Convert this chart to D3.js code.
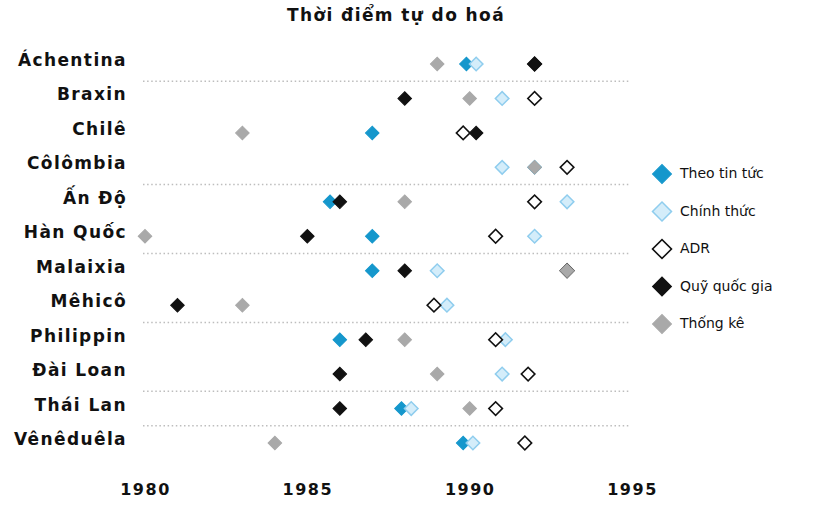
<!DOCTYPE html>
<html>
<head>
<meta charset="utf-8">
<script src="https://cdn.jsdelivr.net/npm/d3@7"></script>
<style>
  body { margin: 0; background: #fff; }
  text { font-family: "DejaVu Sans", sans-serif; fill: #111; }
</style>
</head>
<body>
<div id="plot_area"></div>
<script>
// data (years of liberalisation)
var countries = ["Áchentina", "Braxin", "Chilê", "Côlômbia", "Ấn Độ", "Hàn Quốc",
                 "Malaixia", "Mêhicô", "Philippin", "Đài Loan", "Thái Lan", "Vênêduêla"]
var newsYears     = [1989.9, null, 1987, 1992, 1985.7, 1987, 1987, null, 1986, null, 1987.9, 1989.8]
var officialYears = [1990.2, 1991, null, 1991, 1993, 1992, 1989, 1989.3, 1991.1, 1991, 1988.2, 1990.1]
var adrYears      = [1992, 1992, 1989.8, 1993, 1992, 1990.8, 1993, 1988.9, 1990.8, 1991.8, 1990.8, 1991.7]
var fundYears     = [1992, 1988, 1990.2, null, 1986, 1985, 1988, 1981, 1986.8, 1986, 1986, null]
var statYears     = [1989, 1990, 1983, 1992, 1988, 1980, 1993, 1983, 1988, 1989, 1990, 1984]
var seriesNames   = ["Theo tin tức", "Chính thức", "ADR", "Quỹ quốc gia", "Thống kê"]
var tickYears     = [1980, 1985, 1990, 1995]
// rows after which a dotted separator is drawn
var separators    = [0, 3, 5, 7, 9, 10]

var width = 820, height = 507

var series = [
  {name: seriesNames[0], values: newsYears,     fill: "#1597cc", stroke: "#1597cc", sw: 1},
  {name: seriesNames[1], values: officialYears, fill: "#d4edfa", stroke: "#8fcdee", sw: 1.5},
  {name: seriesNames[2], values: adrYears,      fill: "#fff",    stroke: "#111",    sw: 1.6},
  {name: seriesNames[3], values: fundYears,     fill: "#111",    stroke: "#111",    sw: 1},
  {name: seriesNames[4], values: statYears,     fill: "#a9a9a9", stroke: "#a9a9a9", sw: 1}
]

var svg = d3.select('#plot_area')
  .append("svg")
    .attr("width", width)
    .attr("height", height)

var x = d3.scaleLinear()
  .domain([1980, 1995])
  .range([145, 632])

var y = d3.scalePoint()
  .domain(countries)
  .range([64, 443])

var step = y.step()

// title
svg.append("text")
  .attr("x", 396)
  .attr("y", 16)
  .attr("text-anchor", "middle")
  .attr("dominant-baseline", "middle")
  .style("font-size", "17px")
  .style("font-weight", "bold")
  .style("letter-spacing", "1.4px")
  .text("Thời điểm tự do hoá")

// dotted separators
svg.selectAll(".sep")
  .data(separators)
  .enter()
  .append("line")
    .attr("class", "sep")
    .attr("x1", 143)
    .attr("x2", 630)
    .attr("y1", function(d) { return y(countries[d]) + step / 2 })
    .attr("y2", function(d) { return y(countries[d]) + step / 2 })
    .attr("stroke", "#bdbdbd")
    .attr("stroke-width", 1.5)
    .attr("stroke-dasharray", "1.5,2.6")

// country labels
svg.selectAll(".country")
  .data(countries)
  .enter()
  .append("text")
    .attr("class", "country")
    .attr("x", 127)
    .attr("y", function(d) { return y(d) - 3 })
    .attr("text-anchor", "end")
    .attr("dominant-baseline", "middle")
    .style("font-size", "17px")
    .style("font-weight", "bold")
    .style("letter-spacing", "1.4px")
    .text(function(d) { return d })

// x axis, labels only
var xAxis = svg.append("g")
  .attr("transform", "translate(0,478)")
  .call(d3.axisBottom(x).tickValues(tickYears).tickSize(0).tickPadding(6).tickFormat(d3.format("d")))
xAxis.select(".domain").remove()
xAxis.selectAll("text")
  .style("font-family", "'DejaVu Sans', sans-serif")
  .style("font-size", "16px")
  .style("font-weight", "bold")
  .style("letter-spacing", "1.5px")
  .attr("fill", "#111")

var diamond = function(size) {
  return d3.symbol().type(d3.symbolSquare).size(size)()
}

// markers
series.forEach(function(s) {
  var pts = countries.map(function(c, i) { return {country: c, year: s.values[i]} })
    .filter(function(d) { return d.year != null })
  svg.append("g").selectAll("path")
    .data(pts)
    .enter()
    .append("path")
      .attr("d", diamond(92))
      .attr("transform", function(d) {
        return "translate(" + x(d.year) + "," + y(d.country) + ") rotate(45)"
      })
      .attr("fill", s.fill)
      .attr("stroke", s.stroke)
      .attr("stroke-width", s.sw)
})

// legend
var legend = svg.selectAll(".legend")
  .data(series)
  .enter()
  .append("g")
    .attr("class", "legend")
    .attr("transform", function(d, i) { return "translate(662," + (174 + i * 37.5) + ")" })

legend.append("path")
  .attr("d", diamond(180))
  .attr("transform", "rotate(45)")
  .attr("fill", function(d) { return d.fill })
  .attr("stroke", function(d) { return d.stroke })
  .attr("stroke-width", function(d) { return d.sw })

legend.append("text")
  .attr("x", 18)
  .attr("y", 0)
  .attr("dominant-baseline", "middle")
  .style("font-size", "14px")
  .text(function(d) { return d.name })
</script>
</body>
</html>
